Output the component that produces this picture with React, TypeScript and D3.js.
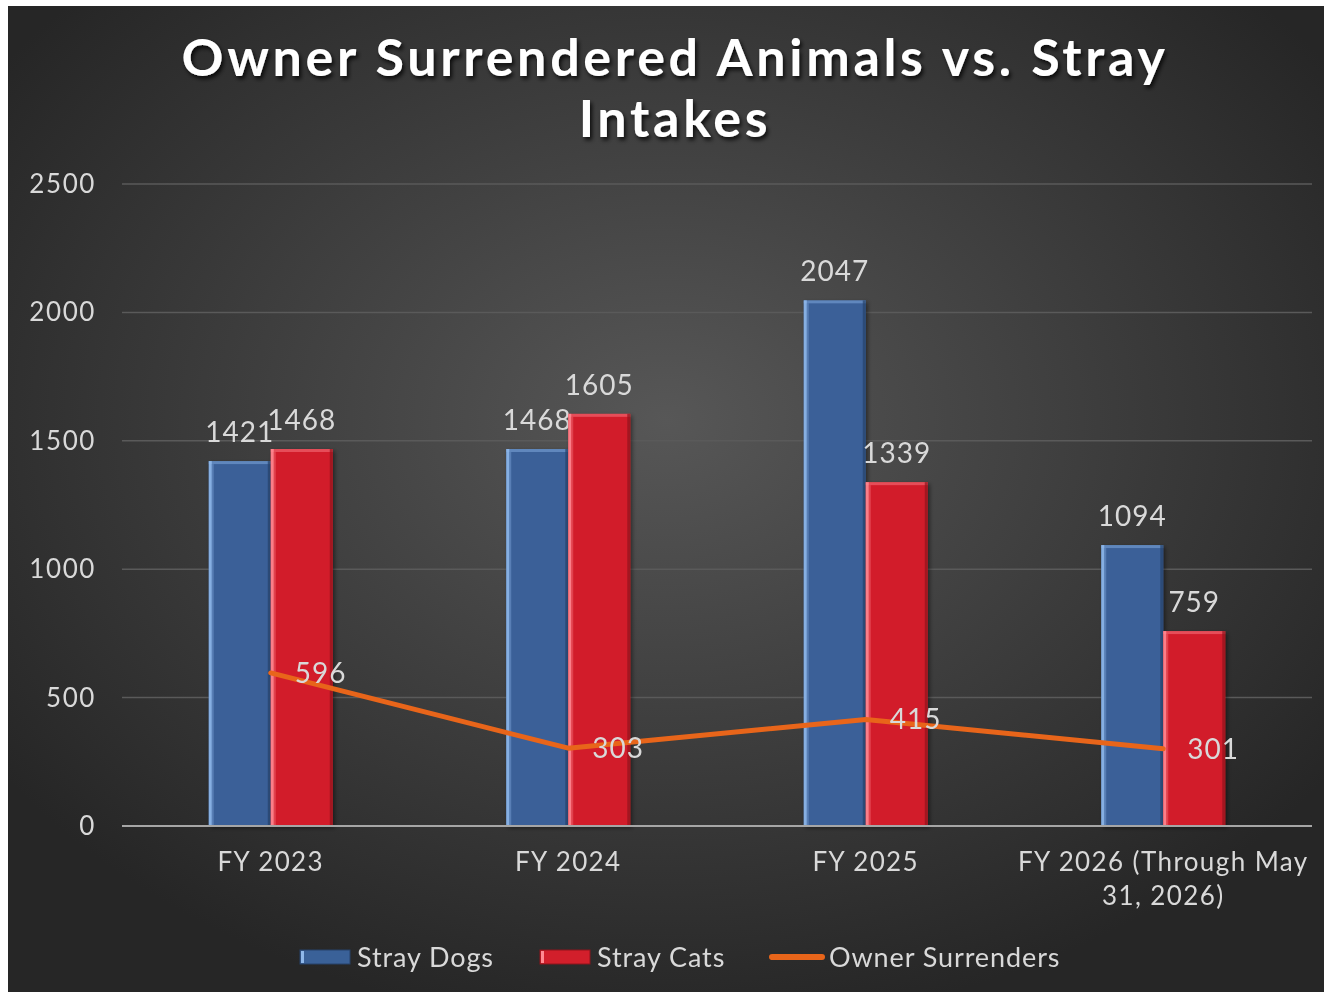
import React from "react";
import * as d3 from "d3";

const categories = ["FY 2023", "FY 2024", "FY 2025", "FY 2026 (Through May 31, 2026)"];
const categoryLines = [["FY 2023"], ["FY 2024"], ["FY 2025"], ["FY 2026 (Through May", "31, 2026)"]];
const strayDogs = [1421, 1468, 2047, 1094];
const strayCats = [1468, 1605, 1339, 759];
const ownerSurrenders = [596, 303, 415, 301];
const yTicks = [0, 500, 1000, 1500, 2000, 2500];

const W = 1316;
const H = 986;
const FONT = "Lato, 'Noto Sans', sans-serif";
const TXT = "#d9d9d9";

export default function App() {
  // coordinates relative to svg placed at (8,6)
  const left = 114;
  const right = 1304;
  const top = 178;
  const bottom = 820;

  const x = d3.scaleBand<string>().domain(categories).range([left, right]).padding(0);
  const y = d3.scaleLinear().domain([0, 2500]).range([bottom, top]);
  const barW = 62;

  const line = d3
    .line<number>()
    .x((_, i) => (x(categories[i]) as number) + x.bandwidth() / 2)
    .y((d) => y(d));

  const series = [
    { name: "Stray Dogs", values: strayDogs, fill: "#3a6198", hi: "#8fb8ea", dark: "#27436b", off: -barW },
    { name: "Stray Cats", values: strayCats, fill: "#d21f2b", hi: "#ff8a92", dark: "#8e141c", off: 0 },
  ];

  return (
    <svg
      width={W}
      height={H}
      style={{ display: "block", position: "fixed", left: 8, top: 6 }}
      fontFamily={FONT}
    >
      <defs>
        <radialGradient id="bg" cx="50%" cy="42%" r="62%">
          <stop offset="0%" stopColor="#575757" />
          <stop offset="55%" stopColor="#3c3c3c" />
          <stop offset="100%" stopColor="#262626" />
        </radialGradient>
        <filter id="shadow" x="-10%" y="-30%" width="120%" height="160%">
          <feDropShadow dx="2" dy="3" stdDeviation="2" floodColor="#000" floodOpacity="0.8" />
        </filter>
        <filter id="barShadow" x="-20%" y="-5%" width="140%" height="110%">
          <feDropShadow dx="2" dy="2" stdDeviation="2" floodColor="#000" floodOpacity="0.45" />
        </filter>
      </defs>
      <rect x={0} y={0} width={W} height={H} fill="url(#bg)" />

      <g filter="url(#shadow)" fill="#ffffff" fontWeight={700} fontSize={52} textAnchor="middle" letterSpacing={3.7}>
        <text x={667} y={70}>Owner Surrendered Animals vs. Stray</text>
        <text x={667} y={131}>Intakes</text>
      </g>

      {yTicks.map((t) => (
        <g key={t}>
          {t > 0 && <line x1={left} x2={right} y1={y(t)} y2={y(t)} stroke="#5a5a5a" strokeWidth={1.5} />}
          <text x={88} y={y(t) + 9} textAnchor="end" fill={TXT} fontSize={26} letterSpacing={1.6}>
            {t}
          </text>
        </g>
      ))}

      {series.map((s) =>
        s.values.map((v, i) => {
          const cx = (x(categories[i]) as number) + x.bandwidth() / 2;
          const bx = cx + s.off;
          const by = y(v);
          const bh = bottom - by;
          return (
            <g key={s.name + i}>
              <g filter="url(#barShadow)">
                <rect x={bx} y={by} width={barW} height={bh} fill={s.fill} />
              </g>
              <rect x={bx} y={by} width={barW} height={3} fill={s.hi} opacity={0.45} />
              <rect x={bx} y={by} width={3} height={bh} fill={s.hi} opacity={0.9} />
              <rect x={bx + 3} y={by + 3} width={2} height={bh - 3} fill={s.hi} opacity={0.35} />
              <rect x={bx + barW - 3} y={by} width={3} height={bh} fill={s.dark} opacity={0.7} />
              <text x={bx + barW / 2} y={by - 19} textAnchor="middle" fill={TXT} fontSize={28} letterSpacing={1}>
                {v}
              </text>
            </g>
          );
        })
      )}

      <line x1={left} x2={right} y1={bottom} y2={bottom} stroke="#a6a6a6" strokeWidth={2} />

      <path d={line(ownerSurrenders) || ""} fill="none" stroke="#e8651a" strokeWidth={5} strokeLinejoin="round" strokeLinecap="round" />
      {ownerSurrenders.map((v, i) => {
        const cx = (x(categories[i]) as number) + x.bandwidth() / 2;
        return (
          <text key={"o" + i} x={cx + 24} y={y(v) + 10} fill={TXT} fontSize={28} letterSpacing={1}>
            {v}
          </text>
        );
      })}

      {categoryLines.map((lines, i) => {
        const cx = (x(categories[i]) as number) + x.bandwidth() / 2;
        return (
          <text key={"c" + i} x={cx} textAnchor="middle" fill={TXT} fontSize={26} letterSpacing={1.4}>
            {lines.map((l, j) => (
              <tspan key={j} x={cx} y={865 + j * 34}>
                {l}
              </tspan>
            ))}
          </text>
        );
      })}

      <g fontSize={27} fill={TXT} letterSpacing={0.9}>
        <rect x={292} y={944} width={50} height={14} fill="#3a6198" stroke="#27436b" />
        <rect x={293} y={945} width={3} height={12} fill="#8fb8ea" />
        <text x={349} y={961}>Stray Dogs</text>
        <rect x={532} y={944} width={50} height={14} fill="#d21f2b" stroke="#8e141c" />
        <rect x={533} y={945} width={3} height={12} fill="#ff8a92" />
        <text x={589} y={961}>Stray Cats</text>
        <line x1={764} x2={814} y1={951} y2={951} stroke="#e8651a" strokeWidth={6} strokeLinecap="round" />
        <text x={821} y={961}>Owner Surrenders</text>
      </g>
    </svg>
  );
}
